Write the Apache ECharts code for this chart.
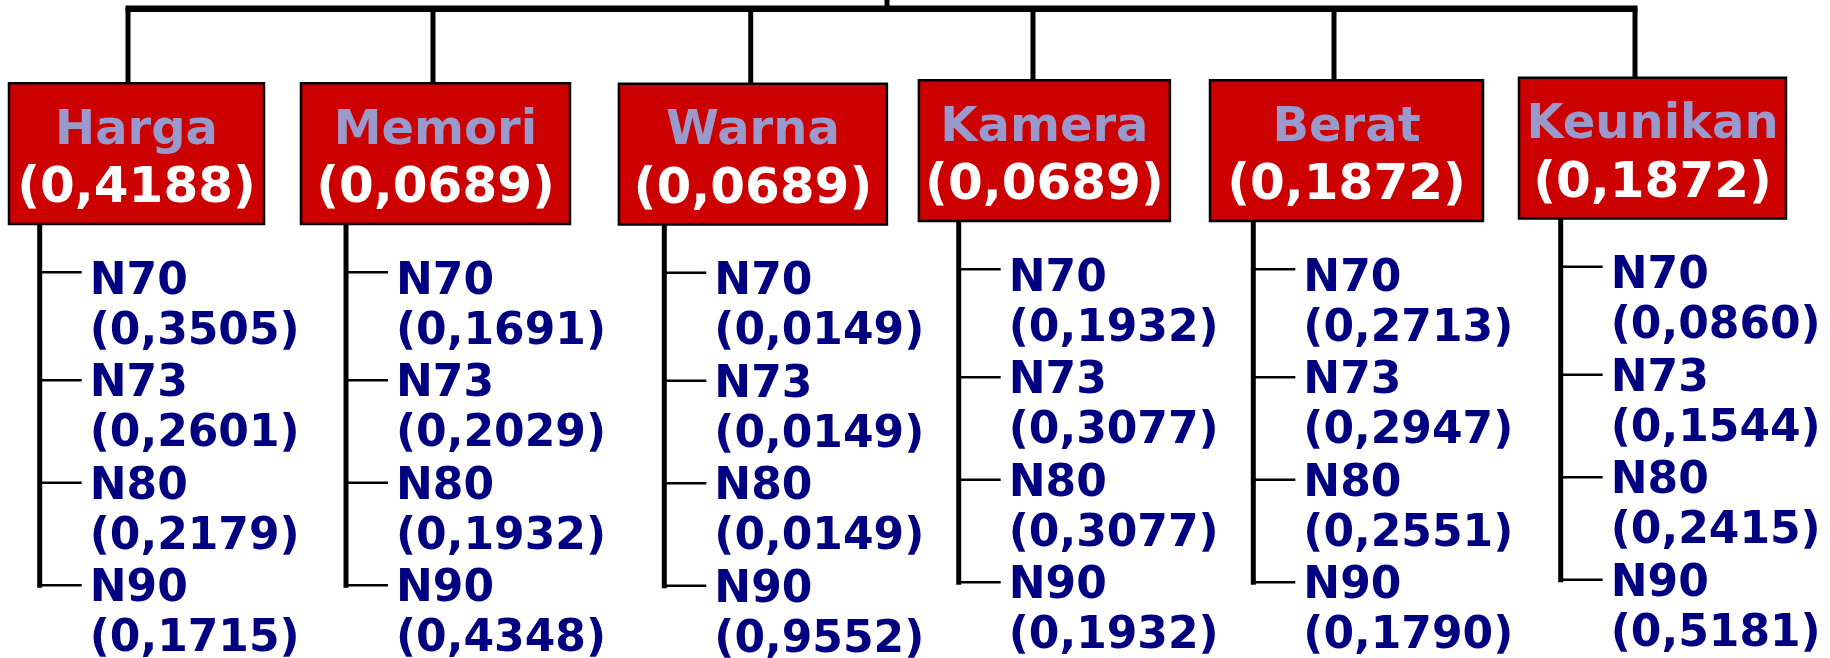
<!DOCTYPE html>
<html><head><meta charset="utf-8">
<script src="https://cdn.jsdelivr.net/npm/echarts@6/dist/echarts.min.js"></script>
<style>html,body{margin:0;padding:0;background:#fff}#c{width:1830px;height:658px}</style>
</head><body><div id="c"></div>
<script>
// ---- data ----
const criteria = ['Harga', 'Memori', 'Warna', 'Kamera', 'Berat', 'Keunikan'];
const criteriaWeights = [0.4188, 0.0689, 0.0689, 0.0689, 0.1872, 0.1872];
const alternatives = ['N70', 'N73', 'N80', 'N90'];
const hargaW    = [0.3505, 0.2601, 0.2179, 0.1715];
const memoriW   = [0.1691, 0.2029, 0.1932, 0.4348];
const warnaW    = [0.0149, 0.0149, 0.0149, 0.9552];
const kameraW   = [0.1932, 0.3077, 0.3077, 0.1932];
const beratW    = [0.2713, 0.2947, 0.2551, 0.1790];
const keunikanW = [0.0860, 0.1544, 0.2415, 0.5181];
const altWeights = [hargaW, memoriW, warnaW, kameraW, beratW, keunikanW];

function fmt(v) { return '(' + v.toFixed(4).replace('.', ',') + ')'; }

// ---- layout (axis units: x = column index, y = alternative row) ----
const BAR_Y = -2.625, BOX_TOP = -1.898, BOX_BOT = -0.525, VALUE_ROW = 0.49;
// small per-column layout adjustments (pixels), kept apart from the data
const COL_NUDGE = [0, -4.2, 10, -1.7, -2.8, 0];
const COL_DY    = [0, 0, 0.5, -3, -3, -5.5];
const BOX_WIDTH = [255, 269, 268, 251, 273, 267];
const DROP_DX   = [-8.5, -2.5, -2.2, -11.4, -12.5, -17.5];
const LIST_DX   = [-96.8, -89.5, -88.6, -85.7, -93.2, -91.8];
const CONN_DY   = [-5.5, 0, 0, 0];
const CONN_LEN = 42, TEXT_GAP = 50, TEXT_DY = 4.5;
const FONT = '"DejaVu Sans", Verdana, sans-serif';

const chart = echarts.init(document.getElementById('c'), null, { renderer: 'canvas' });

function txt(text, x, y, fill, size, align) {
  return { type: 'text', style: { text: text, x: x, y: y + TEXT_DY, fill: fill,
    font: 'bold ' + size + 'px ' + FONT, align: align, textAlign: align,
    verticalAlign: 'middle', textVerticalAlign: 'middle' } };
}
function ln(x1, y1, x2, y2, w) {
  return { type: 'line', shape: { x1: x1, y1: y1, x2: x2, y2: y2 }, style: { stroke: '#000', lineWidth: w } };
}

const last = criteria.length - 1;
const option = {
  animation: false,
  backgroundColor: '#fff',
  grid: { left: 0, right: 0, top: 0, bottom: 0 },
  xAxis: { type: 'value', min: -0.4502, max: 5.5854, show: false },
  yAxis: { type: 'value', inverse: true, min: -2.710, max: 3.709, show: false },
  series: [
    {
      type: 'custom', silent: true,
      data: [[0, BAR_Y]],
      renderItem: function (params, api) {
        const a = api.coord([0, BAR_Y]), b = api.coord([last, BAR_Y]);
        const mid = api.coord([last / 2, BAR_Y]);
        const top = api.coord([0, -2.710])[1];
        const xa = a[0] + COL_NUDGE[0] + DROP_DX[0] - 2.5;
        const xb = b[0] + COL_NUDGE[last] + DROP_DX[last] + 2.5;
        return { type: 'group', children: [
          ln(xa, a[1], xb, b[1], 6.5),
          ln(mid[0] - 7.5, top, mid[0] - 7.5, mid[1], 5)
        ] };
      }
    },
    {
      type: 'custom', silent: true,
      data: criteria.map(function (c, i) { return [i, 0]; }),
      renderItem: function (params, api) {
        const i = api.value(0);
        const cx = api.coord([i, 0])[0] + COL_NUDGE[i];
        const y = function (v) { return api.coord([i, v])[1] + COL_DY[i]; };
        const bt = y(BOX_TOP), bb = y(BOX_BOT), bm = (bt + bb) / 2;
        const dx = cx + DROP_DX[i], vx = cx + LIST_DX[i], w = BOX_WIDTH[i];
        const ch = [
          ln(dx, api.coord([i, BAR_Y])[1], dx, bt, 5),
          { type: 'rect', shape: { x: cx - w / 2, y: bt, width: w, height: bb - bt },
            style: { fill: '#CC0000', stroke: '#000', lineWidth: 2.5 } },
          txt(criteria[i], cx, bm - 27, '#9999CC', 48, 'center'),
          txt(fmt(criteriaWeights[i]), cx, bm + 31, '#FFFFFF', 50, 'center'),
          ln(vx, bb, vx, y(alternatives.length - 1) + 2.5, 5)
        ];
        alternatives.forEach(function (alt, k) {
          const cy = y(k) + CONN_DY[k];
          ch.push(ln(vx, cy, vx + CONN_LEN, cy, 2.5));
          ch.push(txt(alt, vx + TEXT_GAP, y(k), '#000080', 44, 'left'));
          ch.push(txt(fmt(altWeights[i][k]), vx + TEXT_GAP, y(k + VALUE_ROW), '#000080', 44, 'left'));
        });
        return { type: 'group', children: ch };
      }
    }
  ]
};
chart.setOption(option);
</script>
</body></html>
